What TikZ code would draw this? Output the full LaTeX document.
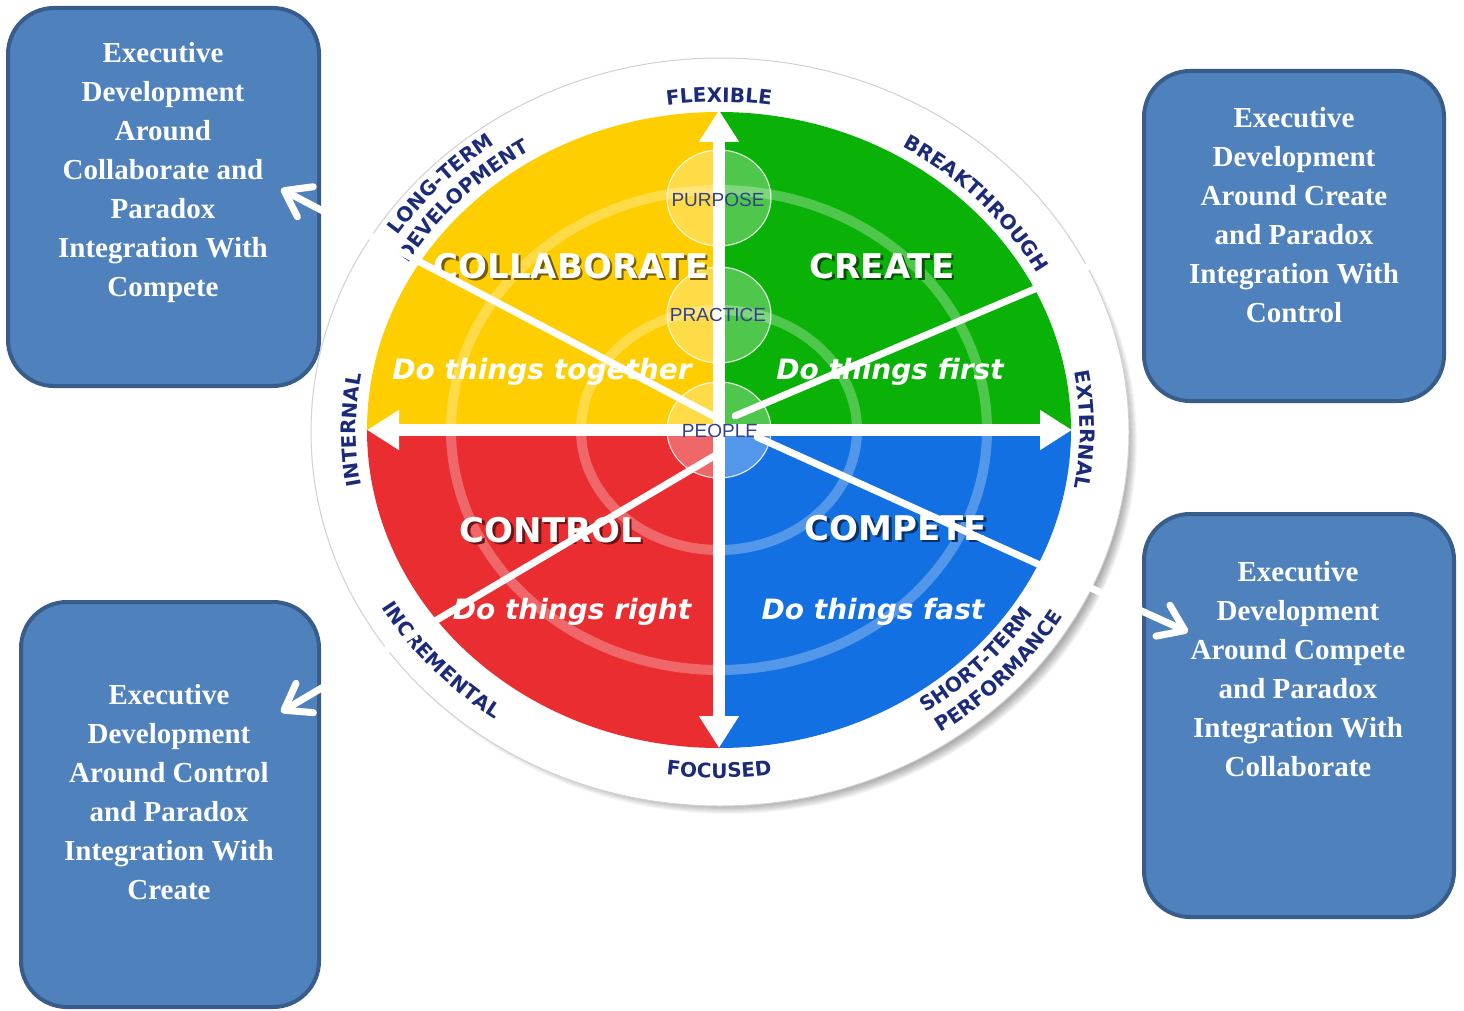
\documentclass[tikz,border=0pt]{standalone}
\usepackage{fontspec}
\setmainfont{Liberation Serif}
\newfontfamily\dvs{DejaVu Sans}[ItalicFont={DejaVu Sans Oblique},BoldFont={DejaVu Sans Bold},BoldItalicFont={DejaVu Sans Bold Oblique}]
\newfontfamily\lsans{Liberation Sans}
\usetikzlibrary{arrows.meta,decorations.text,calc}
\definecolor{qyellow}{RGB}{255,206,0}
\definecolor{qgreen}{RGB}{10,178,8}
\definecolor{qred}{RGB}{234,45,48}
\definecolor{qblue}{RGB}{18,112,226}
\definecolor{navy}{RGB}{28,42,122}
\definecolor{innerblue}{RGB}{52,64,138}
\definecolor{boxfill}{RGB}{79,129,189}
\definecolor{boxline}{RGB}{56,93,138}
\newcommand\ringfont{\dvs\bfseries\fontsize{20pt}{20pt}\selectfont}
\newcommand\bigfont{\dvs\bfseries\fontsize{34pt}{34pt}\selectfont}
\newcommand\subfont{\dvs\bfseries\itshape\fontsize{28pt}{28pt}\selectfont}
\newcommand\circfont{\lsans\fontsize{19pt}{19pt}\selectfont}
\newcommand\boxfont{\rmfamily\bfseries\fontsize{29pt}{39pt}\selectfont}
% white label with a soft drop shadow, typeset as one text
\newcommand\shadowed[2]{\makebox[0pt][l]{\hspace{2.5pt}\raisebox{-2.5pt}{\color{#1}#2}}#2}
\tikzset{
  exbox/.style={draw=boxline, line width=4pt, fill=boxfill, rounded corners=46pt, inner sep=0pt},
  extext/.style={text=white, font=\boxfont, align=center, inner sep=0pt},
  link/.style={draw=white, line width=7pt, line cap=round},
  tipped/.style={link, -{Straight Barb[length=24pt, width=34pt, line width=7pt, round]}},
  axisarrow/.style={draw=white, line width=12pt, {Triangle[length=32pt,width=38pt]}-{Triangle[length=32pt,width=38pt]}},
  quadlab/.style={font=\bigfont, text=white, inner sep=0pt},
  sublab/.style={font=\subfont, text=white, inner sep=0pt},
  circlab/.style={font=\circfont, text=innerblue, inner sep=0pt},
  smallcirc/.style={draw=white, draw opacity=0.6, line width=1pt, fill=white, fill opacity=0.28},
  lightring/.style={draw=white, opacity=0.28, line width=10pt},
  toplab/.style={decorate, decoration={text along path, text align=center, text color=navy, text={|\ringfont|#1}}},
}
\begin{document}
\begin{tikzpicture}[x=1pt,y=1pt]
\useasboundingbox (0,0) rectangle (1464,-1011);
\fill[white] (0,0) rectangle (1464,-1011);
\coordinate (C) at (719,-430);

% outer ring with shadow
\foreach \i in {0,...,9}
  \fill[black, opacity=0.035] (728,-442) ellipse[x radius={400+\i}, y radius={363+\i}];
\fill[white] (720,-432) ellipse[x radius=409, y radius=374];
\draw[black!18, line width=1pt] (720,-432) ellipse[x radius=409, y radius=374];

% quadrants
\fill[qyellow] (C) -- ++(-352,0) arc[start angle=180, end angle=90, x radius=352, y radius=318] -- cycle;
\fill[qgreen] (C) -- ++(0,318) arc[start angle=90, end angle=0, x radius=352, y radius=318] -- cycle;
\fill[qred] (C) -- ++(-352,0) arc[start angle=180, end angle=270, x radius=352, y radius=318] -- cycle;
\fill[qblue] (C) -- ++(0,-318) arc[start angle=270, end angle=360, x radius=352, y radius=318] -- cycle;

% light concentric rings
\begin{scope}
  \clip (C) ellipse[x radius=352, y radius=318];
  \draw[lightring] (C) ellipse[x radius=268, y radius=240];
  \draw[lightring] (C) ellipse[x radius=138, y radius=120];
\end{scope}

% small circles
\fill[smallcirc] (719,-198) ellipse[x radius=52, y radius=48];
\draw[smallcirc, fill=none] (719,-198) ellipse[x radius=52, y radius=48];
\fill[smallcirc] (719,-315) ellipse[x radius=52, y radius=48];
\draw[smallcirc, fill=none] (719,-315) ellipse[x radius=52, y radius=48];
\fill[smallcirc] (719,-430) ellipse[x radius=52, y radius=48];
\draw[smallcirc, fill=none] (719,-430) ellipse[x radius=52, y radius=48];

% axes
\draw[axisarrow] (367,-430) -- (1072,-430);
\draw[axisarrow] (719,-110) -- (719,-748);

% quadrant labels
\node[quadlab] (collab) at (571,-267) {\shadowed{qyellow!45!black}{COLLABORATE}};
\node[quadlab] (create) at (882,-267) {\shadowed{qgreen!45!black}{CREATE}};
\node[quadlab] (control) at (551,-531) {\shadowed{qred!45!black}{CONTROL}};
\node[quadlab] (compete) at (896,-529) {\shadowed{qblue!45!black}{COMPETE}};

\node[sublab] (together) at (542,-372) {Do things together};
\node[sublab] (first) at (890,-372) {Do things first};
\node[sublab] (right) at (572,-612) {Do things right};
\node[sublab] (fast) at (873,-612) {Do things fast};

% circle labels
\node[circlab] (purpose) at (718,-200) {PURPOSE};
\node[circlab] (practice) at (718,-315) {PRACTICE};
\node[circlab] (people) at (720,-431) {PEOPLE};

% ring labels
\begin{scope}[shift={(719,-430)}]
  \path[toplab=FLEXIBLE] (120:362 and 328) arc[start angle=120, end angle=60, x radius=362, y radius=328];
  \path[toplab=BREAKTHROUGH] (75:362 and 328) arc[start angle=75, end angle=12, x radius=362, y radius=328];
  \path[toplab=EXTERNAL] (30:361 and 328) arc[start angle=30, end angle=-30, x radius=361, y radius=328];
  \path[toplab=INTERNAL] (210:363 and 328) arc[start angle=210, end angle=150, x radius=363, y radius=328];
  \path[toplab=LONG-TERM] (166:386 and 351) arc[start angle=166, end angle=107, x radius=386, y radius=351];
  \path[toplab=DEVELOPMENT] (166:361 and 328) arc[start angle=166, end angle=106, x radius=361, y radius=328];
  \path[toplab=FOCUSED] (240:384 and 348) arc[start angle=240, end angle=300, x radius=384, y radius=348];
  \path[toplab=INCREMENTAL] (192:390 and 353) arc[start angle=192, end angle=252, x radius=390, y radius=353];
  \path[toplab=SHORT-TERM] (286:374 and 339) arc[start angle=286, end angle=346, x radius=374, y radius=339];
  \path[toplab=PERFORMANCE] (287:400 and 364) arc[start angle=287, end angle=347, x radius=400, y radius=364];
\end{scope}

% connector end points
\coordinate (s1) at (715,-417);
\coordinate (s2) at (735,-416);
\coordinate (s3) at (721,-452);
\coordinate (s4) at (757,-437);
\coordinate (t1) at (281,-189);
\coordinate (t2) at (1141,-244);
\coordinate (t3) at (281,-712);
\coordinate (t4) at (1188,-632);

\draw[link] (s2) -- (t2);

% boxes
\node[exbox, minimum width=311pt, minimum height=378pt] (b1) at (163.5,-197) {};
\node[exbox, minimum width=300pt, minimum height=330pt] (b2) at (1294,-236) {};
\node[exbox, minimum width=298pt, minimum height=405pt] (b3) at (170,-804.5) {};
\node[exbox, minimum width=310pt, minimum height=403pt] (b4) at (1299,-715.5) {};

\node[extext] (b1text) at (163,-173) {Executive\\Development\\Around\\Collaborate and\\Paradox\\Integration With\\Compete};
\node[extext] (b2text) at (1294,-215) {Executive\\Development\\Around Create\\and Paradox\\Integration With\\Control};
\node[extext] (b3text) at (169,-792) {Executive\\Development\\Around Control\\and Paradox\\Integration With\\Create};
\node[extext] (b4text) at (1298,-669) {Executive\\Development\\Around Compete\\and Paradox\\Integration With\\Collaborate};

% connectors
\draw[tipped] (s1) -- (t1);
\draw[tipped] (s3) -- (t3);
\draw[tipped] (s4) -- (t4);
\end{tikzpicture}
\end{document}
